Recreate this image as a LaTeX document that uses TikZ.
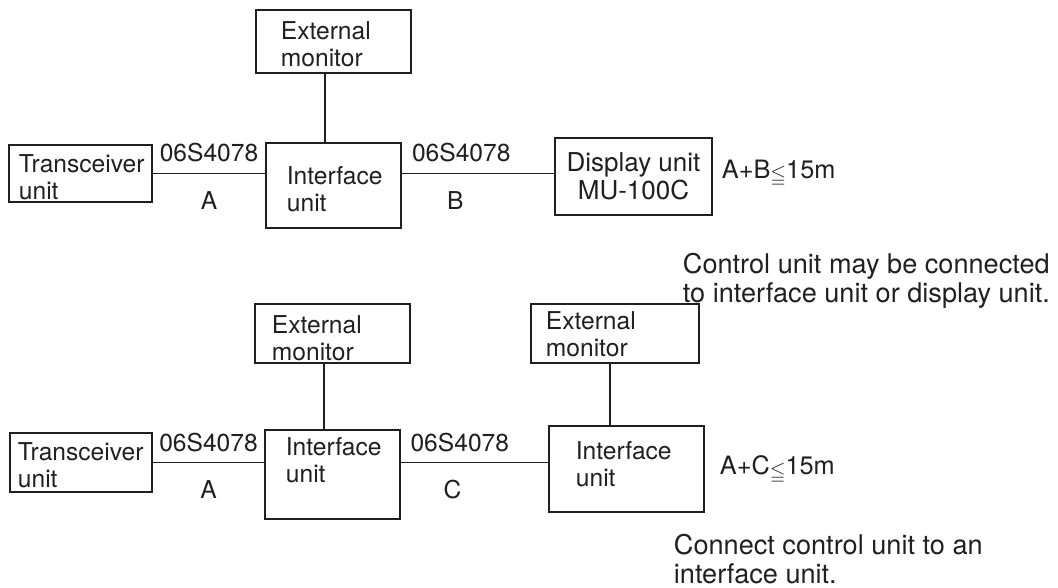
\documentclass[tikz,border=0pt]{standalone}
\usepackage{amssymb}
\usepackage{fontspec}
\setmainfont{TeX Gyre Heros}
\usepackage{tikz}
\usetikzlibrary{positioning}

\definecolor{ink}{RGB}{35,31,32}
\newcommand{\leqsign}{\raisebox{-0.15em}{\scalebox{0.8}{$\leqq$}}}

\begin{document}
\begin{tikzpicture}[line width=0.45mm, color=ink,
  font=\fontsize{17.5pt}{19pt}\selectfont,
  unit/.style={draw, line width=0.5mm, inner sep=0pt},
  boxtext/.style={anchor=north west, inner sep=0pt, align=left},
  note/.style={boxtext, font=\fontsize{19.3pt}{20.6pt}\selectfont},
  limit/.style={anchor=base west, inner sep=0pt, font=\fontsize{18pt}{20pt}\selectfont},
  cable/.style={inner sep=0pt}]
\useasboundingbox (0,0) rectangle (26.45,14.7);

%upper system
\node[unit, minimum width=3.875cm, minimum height=1.575cm] (ext1) at (8.3375,13.6625) {};
\node[unit, minimum width=3.575cm, minimum height=1.425cm] (trans1) at (2.0125,10.3625) {};
\node[unit, minimum width=3.375cm, minimum height=2.125cm] (intf1) at (8.3375,10.0625) {};
\node[unit, minimum width=3.925cm, minimum height=1.925cm] (disp) at (15.8375,10.2875) {};

\node[boxtext] (ext1txt) at ([xshift=0.625cm,yshift=-0.3cm]ext1.north west) {External\\monitor};
\node[boxtext] (trans1txt) at ([xshift=0.25cm,yshift=-0.25cm]trans1.north west) {Transceiver\\unit};
\node[boxtext] (intf1txt) at ([xshift=0.525cm,yshift=-0.6cm]intf1.north west) {Interface\\unit};
\node[boxtext, anchor=north, align=center, font=\fontsize{18.5pt}{20pt}\selectfont] (disptxt) at ([yshift=-0.36cm]disp.north) {Display unit\\MU-100C};

\draw ([xshift=-0.2125cm]ext1.south) -- ([xshift=-0.2125cm]ext1.south |- intf1.north);
\draw (trans1.east) -- node[cable, above=0.27cm] (cblA1) {06S4078} node[cable, below=0.42cm] (lenA1) {A} (trans1.east -| intf1.west);
\draw (trans1.east -| intf1.east) -- node[cable, pos=0.39, above=0.27cm] (cblB) {06S4078} node[cable, pos=0.35, below=0.42cm] (lenB) {B} (trans1.east -| disp.west);

\node[limit] (limAB) at ([xshift=0.2cm,yshift=-0.04cm]disp.east) {A+B\leqsign15m};
\node[note] (noteAB) at (17.05,8.4) {Control unit may be connected\\to interface unit or display unit.};

%lower system
\node[unit, minimum width=3.875cm, minimum height=1.475cm] (ext2) at (8.3125,6.3625) {};
\node[unit, minimum width=4.2cm, minimum height=1.475cm] (ext3) at (15.375,6.3625) {};
\node[unit, minimum width=3.55cm, minimum height=1.475cm] (trans2) at (2.025,3.1375) {};
\node[unit, minimum width=3.375cm, minimum height=2.225cm] (intf2) at (8.3125,2.8375) {};
\node[unit, minimum width=3.875cm, minimum height=2.15cm] (intf3) at (15.6625,2.975) {};

\node[boxtext] (ext2txt) at ([xshift=0.425cm,yshift=-0.3cm]ext2.north west) {External\\monitor};
\node[boxtext] (ext3txt) at ([xshift=0.375cm,yshift=-0.2cm]ext3.north west) {External\\monitor};
\node[boxtext] (trans2txt) at ([xshift=0.2cm,yshift=-0.25cm]trans2.north west) {Transceiver\\unit};
\node[boxtext] (intf2txt) at ([xshift=0.525cm,yshift=-0.2cm]intf2.north west) {Interface\\unit};
\node[boxtext] (intf3txt) at ([xshift=0.675cm,yshift=-0.4cm]intf3.north west) {Interface\\unit};

\draw ([xshift=-0.2125cm]ext2.south) -- ([xshift=-0.2125cm]ext2.south |- intf2.north);
\draw ([xshift=-0.125cm]ext3.south) -- ([xshift=-0.125cm]ext3.south |- intf3.north);
\draw (trans2.east) -- node[cable, above=0.25cm] (cblA2) {06S4078} node[cable, below=0.42cm] (lenA2) {A} (trans2.east -| intf2.west);
\draw (trans2.east -| intf2.east) -- node[cable, pos=0.4, above=0.25cm] (cblC) {06S4078} node[cable, pos=0.35, below=0.42cm] (lenC) {C} (trans2.east -| intf3.west);

\node[limit] (limAC) at ([xshift=0.35cm,yshift=-0.15cm]intf3.east) {A+C\leqsign15m};
\node[note] (noteAC) at (16.825,1.375) {Connect control unit to an\\interface unit.};

\end{tikzpicture}
\end{document}
